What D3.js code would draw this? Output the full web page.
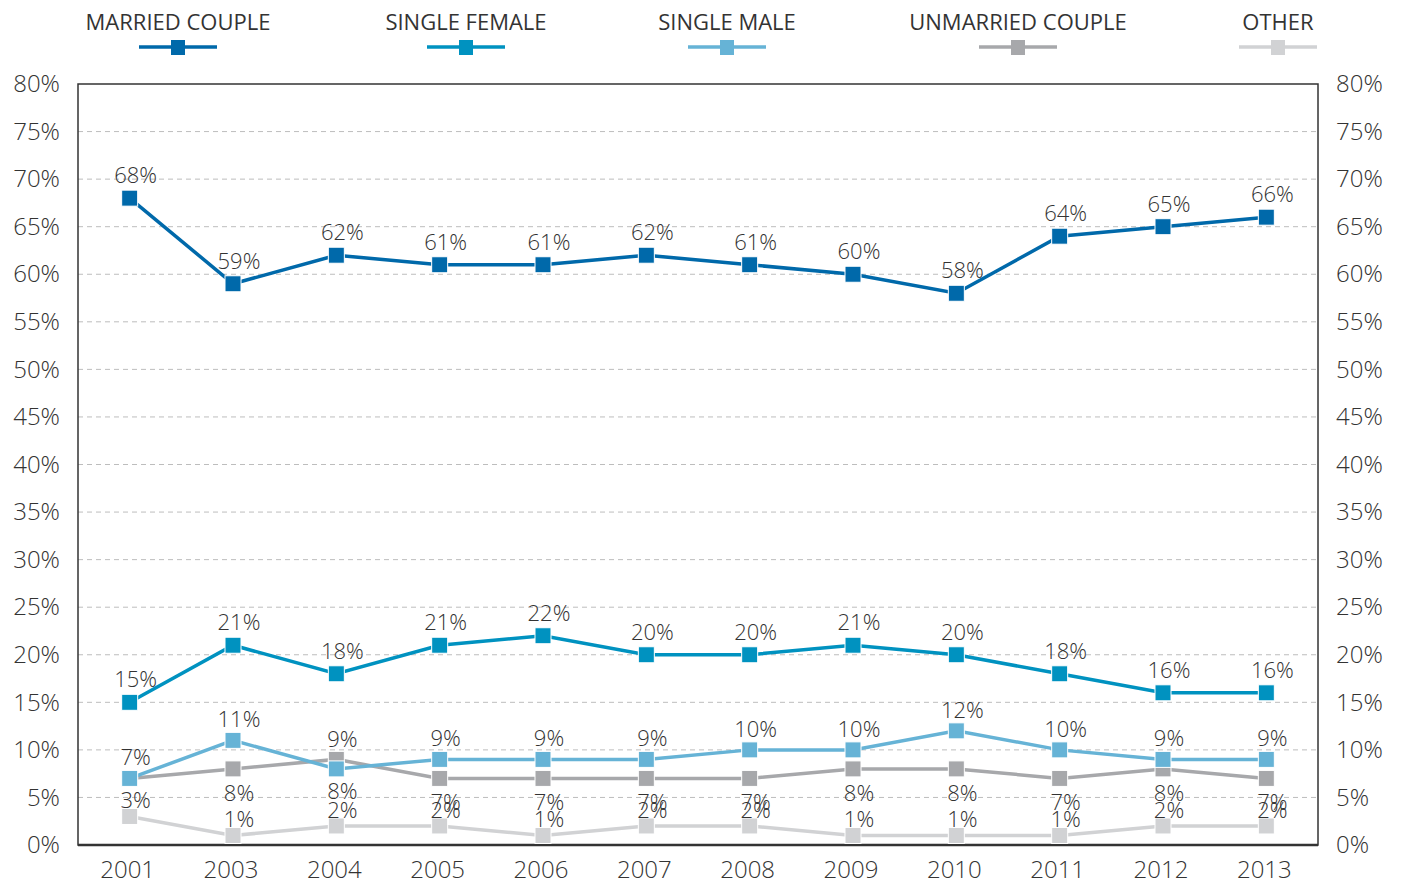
<!DOCTYPE html>
<html>
<head>
<meta charset="utf-8">
<script src="https://cdn.jsdelivr.net/npm/d3@7"></script>
<style>
  body { margin: 0; background: #fff; }
  text { font-family: "Open Sans", Lato, sans-serif; font-weight: 300; fill: #333; }
</style>
</head>
<body>
<div id="chart"></div>
<script>
// data
var years = ["2001", "2003", "2004", "2005", "2006", "2007", "2008", "2009", "2010", "2011", "2012", "2013"];
var seriesNames = ["MARRIED COUPLE", "SINGLE FEMALE", "SINGLE MALE", "UNMARRIED COUPLE", "OTHER"];
var seriesColors = ["#0069aa", "#0092c0", "#66b3d6", "#a7a8ab", "#d1d2d4"];
var married = [68, 59, 62, 61, 61, 62, 61, 60, 58, 64, 65, 66];
var singleFemale = [15, 21, 18, 21, 22, 20, 20, 21, 20, 18, 16, 16];
var singleMale = [7, 11, 8, 9, 9, 9, 10, 10, 12, 10, 9, 9];
var unmarried = [7, 8, 9, 7, 7, 7, 7, 8, 8, 7, 8, 7];
var other = [3, 1, 2, 2, 1, 2, 2, 1, 1, 1, 2, 2];
var yTicks = [0, 5, 10, 15, 20, 25, 30, 35, 40, 45, 50, 55, 60, 65, 70, 75, 80];
var legendCenters = [178, 466, 727, 1018, 1278];

var allSeries = [married, singleFemale, singleMale, unmarried, other];

var W = 1402, H = 884;
var margin = {left: 78, right: 84, top: 84, bottom: 39};

var svg = d3.select("#chart").append("svg")
    .attr("width", W)
    .attr("height", H);

var x = d3.scaleBand()
    .domain(years)
    .range([margin.left, W - margin.right])
    .padding(0);

var y = d3.scaleLinear()
    .domain([0, 80])
    .range([H - margin.bottom, margin.top]);

// grid
svg.append("g").selectAll("line")
    .data(yTicks.filter(function(d) { return d > 0 && d < 80; }))
    .enter().append("line")
    .attr("x1", margin.left)
    .attr("x2", W - margin.right)
    .attr("y1", function(d) { return y(d); })
    .attr("y2", function(d) { return y(d); })
    .attr("stroke", "#bdbdbd")
    .attr("stroke-width", 1)
    .attr("stroke-dasharray", "5,4");

// frame
svg.append("rect")
    .attr("x", margin.left)
    .attr("y", margin.top)
    .attr("width", W - margin.left - margin.right)
    .attr("height", H - margin.top - margin.bottom)
    .attr("fill", "none")
    .attr("stroke", "#333")
    .attr("stroke-width", 1.5);
svg.append("line")
    .attr("x1", margin.left).attr("x2", W - margin.right)
    .attr("y1", y(0)).attr("y2", y(0))
    .attr("stroke", "#333").attr("stroke-width", 2.5);

// axes
var fmt = function(d) { return d + "%"; };
var leftAxis = svg.append("g")
    .attr("transform", "translate(" + (margin.left - 18) + ",0)")
    .call(d3.axisLeft(y).tickValues(yTicks).tickFormat(fmt).tickSize(0).tickPadding(0));
var rightAxis = svg.append("g")
    .attr("transform", "translate(" + (W - margin.right + 18) + ",0)")
    .call(d3.axisRight(y).tickValues(yTicks).tickFormat(fmt).tickSize(0).tickPadding(0));
var xAxis = svg.append("g")
    .attr("transform", "translate(0," + (y(0) + 16) + ")")
    .call(d3.axisBottom(x).tickSize(0).tickPadding(0));

[leftAxis, rightAxis, xAxis].forEach(function(a) {
    a.select(".domain").remove();
    a.selectAll("text")
        .attr("font-size", 24)
        .style("font-family", "'Open Sans', Lato, sans-serif")
        .style("font-weight", 300)
        .attr("fill", "#2a2a2a");
});
xAxis.selectAll("text").attr("dy", "0.72em").attr("dx", "-2");

var line = d3.line()
    .x(function(d, i) { return x(years[i]) + x.bandwidth() / 2; })
    .y(function(d) { return y(d); });

// draw series back to front
for (var s = allSeries.length - 1; s >= 0; s--) {
    var g = svg.append("g");
    g.append("path")
        .attr("d", line(allSeries[s]))
        .attr("fill", "none")
        .attr("stroke", seriesColors[s])
        .attr("stroke-width", 3.5);
    g.selectAll("rect")
        .data(allSeries[s])
        .enter().append("rect")
        .attr("x", function(d, i) { return x(years[i]) + x.bandwidth() / 2 - 8; })
        .attr("y", function(d) { return y(d) - 8; })
        .attr("width", 16)
        .attr("height", 16)
        .attr("fill", seriesColors[s])
        .attr("stroke", "#fff")
        .attr("stroke-width", 1);
}

// value labels: offset from the point, positive = above
function labelOffset(s, i) {
    if (s === 4) return 16;
    if (s === 2) return singleMale[i] < unmarried[i] ? -22 : 21;
    if (s === 3) {
        if (unmarried[i] === singleMale[i]) return 0;
        return unmarried[i] > singleMale[i] ? 20 : -24;
    }
    return 23;
}
allSeries.forEach(function(data, s) {
    var lg = svg.append("g");
    data.forEach(function(d, i) {
        var off = labelOffset(s, i);
        if (off === 0) return;
        lg.append("text")
            .attr("x", x(years[i]) + x.bandwidth() / 2 + 6)
            .attr("y", y(d) - off)
            .attr("dy", "0.36em")
            .attr("text-anchor", "middle")
            .attr("font-size", 22)
            .attr("fill", "#2a2a2a")
            .text(d + "%");
    });
});

// legend
seriesNames.forEach(function(name, s) {
    var cx = legendCenters[s];
    var lg = svg.append("g");
    lg.append("text")
        .attr("x", cx)
        .attr("y", 22)
        .attr("dy", "0.36em")
        .attr("text-anchor", "middle")
        .attr("font-size", 22)
        .style("font-weight", 400)
        .attr("fill", "#222")
        .text(name);
    lg.append("line")
        .attr("x1", cx - 39).attr("x2", cx + 39)
        .attr("y1", 47).attr("y2", 47)
        .attr("stroke", seriesColors[s])
        .attr("stroke-width", 3.5);
    lg.append("rect")
        .attr("x", cx - 7).attr("y", 40)
        .attr("width", 14).attr("height", 15)
        .attr("fill", seriesColors[s]);
});
</script>
</body>
</html>
